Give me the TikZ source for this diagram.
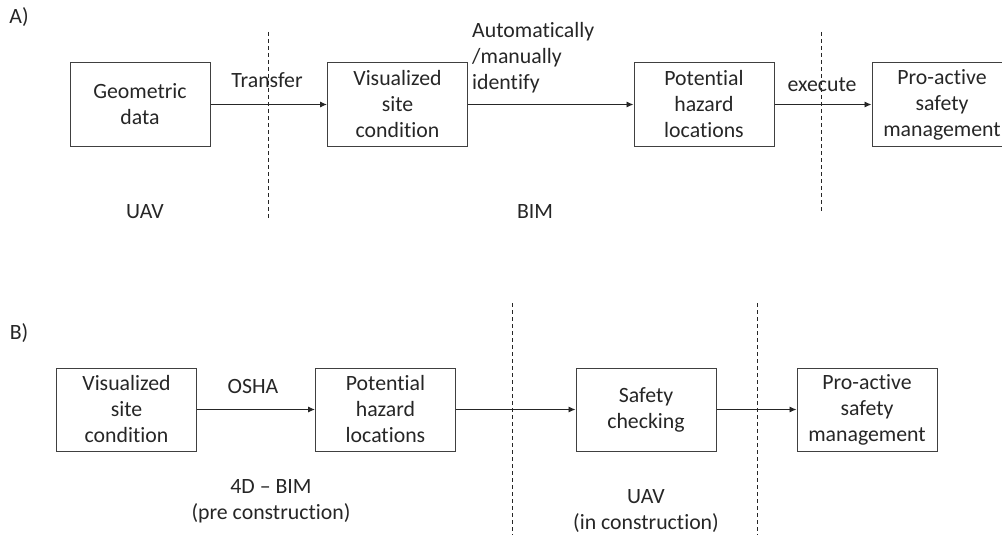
\documentclass[tikz,border=0pt]{standalone}
\usepackage{fontspec}
\setmainfont[Ligatures={NoCommon}]{Carlito}
\usetikzlibrary{arrows.meta}
\begin{document}
\begin{tikzpicture}[x=1pt,y=-1pt,
  every node/.style={font=\fontsize{21.8}{26}\selectfont, text=black!85, inner sep=0pt},
  box/.style={draw=black!75, line width=1pt, minimum width=140pt, minimum height=83pt, align=center},
  lbl/.style={align=center},
  conn/.style={draw=black!85, line width=0.9pt, -{Latex[length=7pt,width=6pt]}},
  sep/.style={draw=black!85, line width=0.8pt, dash pattern=on 4pt off 3pt}]
\useasboundingbox (0,0) rectangle (1002,535);
% Panel A
\node (labA) at (19,17) {A)};
\node[box] (a1) at (140,104.5) {Geometric\\data};
\node[box] (a2) at (397.5,104.5) {Visualized\\site\\condition};
\node[box] (a3) at (704,104.5) {Potential\\hazard\\locations};
\node[box] (a4) at (942,104.5) {Pro-active\\safety\\management};
\draw[conn] (a1) -- (a2);
\draw[conn] (a2) -- (a3);
\draw[conn] (a3) -- (a4);
\node[lbl] (tA1) at (267,80) {Transfer};
\node[lbl, anchor=west, align=left] (tA2) at (472,57.5) {Automatically\\/manually\\identify};
\node[lbl] (tA3) at (822,85) {execute};
\node[lbl] (tA4) at (145,212) {UAV};
\node[lbl] (tA5) at (535,212) {BIM};
\draw[sep] (268,32) -- (268,220);
\draw[sep] (821,32) -- (821,212);
% Panel B
\node (labB) at (19,333) {B)};
\node[box] (b1) at (126.5,409.5) {Visualized\\site\\condition};
\node[box] (b2) at (385.5,409.5) {Potential\\hazard\\locations};
\node[box] (b3) at (646,409.5) {Safety\\checking};
\node[box] (b4) at (867,409.5) {Pro-active\\safety\\management};
\draw[conn] (b1) -- (b2);
\draw[conn] (b2) -- (b3);
\draw[conn] (b3) -- (b4);
\node[lbl] (tB1) at (253,386) {OSHA};
\node[lbl] (tB2) at (271,501) {4D -- BIM\\(pre construction)};
\node[lbl] (tB3) at (646,511.5) {UAV\\(in construction)};
\draw[sep] (512,303) -- (512,535);
\draw[sep] (757,303) -- (757,535);
\end{tikzpicture}
\end{document}
